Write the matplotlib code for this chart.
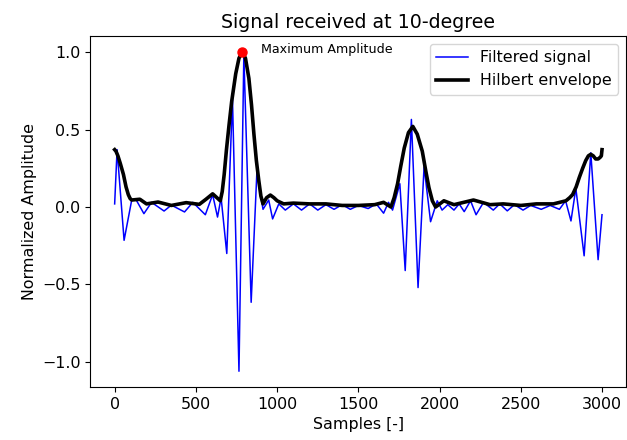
import matplotlib
matplotlib.use('Agg')
import matplotlib.pyplot as plt

# filtered signal (extrema, sample index / amplitude)
sig_x = [0, 15, 58, 105, 130, 180, 227, 304, 349, 430, 481, 558, 603, 633, 655,
         690, 725, 765, 795, 840, 875, 913, 948, 972, 1010, 1050, 1100, 1150,
         1200, 1250, 1300, 1350, 1400, 1450, 1500, 1560, 1610, 1655, 1685, 1710,
         1755, 1788, 1826, 1867, 1904, 1944, 1985, 2015, 2050, 2088, 2120, 2151,
         2190, 2224, 2270, 2330, 2370, 2416, 2460, 2513, 2560, 2625, 2680, 2737,
         2775, 2808, 2838, 2889, 2930, 2975, 2999]
sig_y = [0.02, 0.37, -0.215, 0.045, 0.05, -0.043, 0.03, -0.026, 0.012, -0.032, 0.03,
         -0.05, 0.08, -0.065, 0.06, -0.30, 0.70, -1.06, 0.98, -0.615, 0.22, -0.015,
         0.045, -0.077, 0.02, -0.02, 0.02, -0.02, 0.02, -0.02, 0.015, -0.015, 0.015,
         -0.015, 0.01, -0.01, 0.02, -0.04, 0.03, -0.02, 0.15, -0.41, 0.565, -0.52,
         0.26, -0.095, 0.04, -0.02, 0.015, -0.02, 0.02, -0.03, 0.04, -0.05, 0.03,
         -0.02, 0.02, -0.025, 0.015, -0.02, 0.01, -0.015, 0.01, -0.015, 0.04, -0.09,
         0.12, -0.315, 0.35, -0.34, -0.05]

# hilbert envelope
env_x = [0, 8, 20, 35, 54, 70, 84, 95, 105, 155, 196, 267, 349, 440, 521, 562, 603,
         650, 662, 674, 688, 704, 720, 745, 765, 785, 805, 826, 842, 857, 872, 887,
         900, 913, 935, 958, 980, 1000, 1040, 1100, 1200, 1300, 1400, 1500, 1600,
         1655, 1700, 1720, 1741, 1760, 1782, 1808, 1835, 1862, 1893, 1915, 1934,
         1955, 1975, 2026, 2088, 2208, 2310, 2391, 2500, 2595, 2700, 2777, 2800,
         2818, 2840, 2859, 2880, 2899, 2915, 2930, 2945, 2960, 2975, 2987, 2995, 2999]
env_y = [0.37, 0.36, 0.33, 0.28, 0.21, 0.13, 0.08, 0.055, 0.045, 0.05, 0.02, 0.032,
         0.01, 0.028, 0.017, 0.05, 0.085, 0.04, 0.10, 0.21, 0.37, 0.53, 0.68, 0.86,
         0.96, 1.0, 0.96, 0.83, 0.66, 0.47, 0.30, 0.17, 0.07, 0.02, 0.06, 0.077, 0.06,
         0.04, 0.02, 0.025, 0.02, 0.02, 0.01, 0.01, 0.015, 0.03, 0.0, 0.06, 0.15, 0.26,
         0.38, 0.48, 0.52, 0.47, 0.36, 0.23, 0.125, 0.04, 0.0, 0.04, 0.015, 0.045,
         0.015, 0.02, 0.01, 0.02, 0.02, 0.04, 0.06, 0.08, 0.13, 0.19, 0.25, 0.30, 0.33,
         0.34, 0.33, 0.31, 0.31, 0.32, 0.33, 0.37]

max_x = 785
max_y = 1.0

plt.figure(figsize=(6.27, 4.4), dpi=100)
plt.subplots_adjust(left=0.144, right=0.999, top=0.918, bottom=0.12)
plt.plot(sig_x, sig_y, color='blue', lw=1.1, label='Filtered signal')
plt.plot(env_x, env_y, color='black', lw=2.6, label='Hilbert envelope')
plt.plot(max_x, max_y, 'ro', ms=6.5)
plt.text(max_x + 115, max_y + 0.015, 'Maximum Amplitude', fontsize=9.1, va='center')
plt.xlabel('Samples [-]', fontsize=11.4)
plt.ylabel('Normalized Amplitude', fontsize=11.4)
plt.title('Signal received at 10-degree', fontsize=13.7)
plt.xticks(fontsize=11.4)
plt.yticks([-1.0, -0.5, 0.0, 0.5, 1.0], fontsize=11.4)
plt.legend(loc='upper right', fontsize=11.4)
plt.savefig('out.png', dpi=100)
